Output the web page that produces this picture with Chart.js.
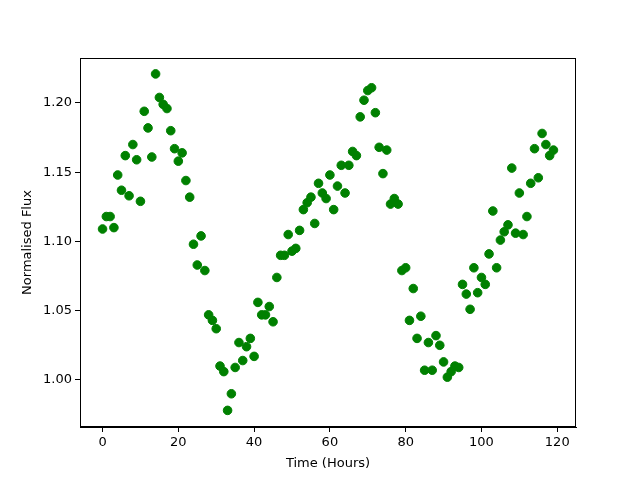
<!DOCTYPE html>
<html>
<head>
<meta charset="utf-8">
<script src="https://cdn.jsdelivr.net/npm/chart.js@4"></script>
<style>
  html, body { margin: 0; padding: 0; background: #fff; }
  canvas { display: block; }
</style>
</head>
<body>
<canvas id="chart" width="640" height="480"></canvas>
<script>
// Hours (x values)
const hours = [];
for (let h = 0; h < 120; h++) hours.push(h);

// Normalised flux, one per hour
const flux = [
    1.109, 1.118, 1.118, 1.110, 1.148, 1.137, 1.162, 1.133, 1.170, 1.159,
    1.129, 1.194, 1.182, 1.161, 1.221, 1.204, 1.199, 1.196, 1.180, 1.167,
    1.158, 1.164, 1.144, 1.132, 1.098, 1.083, 1.104, 1.079, 1.047, 1.043,
    1.037, 1.010, 1.006, 0.978, 0.990, 1.009, 1.027, 1.014, 1.024, 1.030,
    1.017, 1.056, 1.047, 1.047, 1.053, 1.042, 1.074, 1.090, 1.090, 1.105,
    1.093, 1.095, 1.108, 1.123, 1.128, 1.132, 1.113, 1.142, 1.135, 1.131,
    1.148, 1.123, 1.140, 1.155, 1.135, 1.155, 1.165, 1.162, 1.190, 1.202,
    1.209, 1.211, 1.193, 1.168, 1.149, 1.166, 1.127, 1.131, 1.127, 1.079,
    1.081, 1.043, 1.066, 1.030, 1.046, 1.007, 1.027, 1.007, 1.032, 1.025,
    1.013, 1.002, 1.006, 1.010, 1.009, 1.069, 1.062, 1.051, 1.081, 1.063,
    1.074, 1.069, 1.091, 1.122, 1.081, 1.101, 1.107, 1.112, 1.153, 1.106,
    1.135, 1.105, 1.118, 1.142, 1.167, 1.146, 1.178, 1.170, 1.162, 1.166
];

// Tick labels
const xTicks = [0, 20, 40, 60, 80, 100, 120];
const yTicks = [1.00, 1.05, 1.10, 1.15, 1.20];

const points = hours.map((h, i) => ({ x: h, y: flux[i] }));

// draws the top and right spines like matplotlib
const frame = {
    id: 'frame',
    afterDraw(chart) {
        const a = chart.chartArea;
        const ctx = chart.ctx;
        ctx.save();
        ctx.strokeStyle = '#000';
        ctx.lineWidth = 1;
        ctx.strokeRect(a.left + 0.5, a.top + 0.5, a.right - a.left - 1, a.bottom - a.top - 1);
        ctx.restore();
    }
};

const font = { family: 'DejaVu Sans', size: 13 };

new Chart(document.getElementById('chart').getContext('2d'), {
    type: 'scatter',
    data: {
        datasets: [{
            data: points,
            backgroundColor: '#008000',
            borderColor: '#008000',
            borderWidth: 1,
            pointRadius: 4.3
        }]
    },
    options: {
        responsive: false,
        animation: false,
        layout: { padding: { left: 0, top: 58, right: 64, bottom: 0 } },
        plugins: {
            legend: { display: false },
            tooltip: { enabled: false }
        },
        scales: {
            x: {
                type: 'linear',
                min: -5.95,
                max: 124.95,
                afterBuildTicks: scale => { scale.ticks = xTicks.map(v => ({ value: v })); },
                afterFit: scale => { scale.height = 53; },
                grid: { drawOnChartArea: false, tickLength: 5, tickColor: '#000' },
                border: { display: true, color: '#000', width: 1 },
                ticks: { color: '#000', font: font, padding: 3, maxRotation: 0 },
                title: {
                    display: true, text: 'Time (Hours)', color: '#000', font: font,
                    padding: { top: 0, bottom: 9 }
                }
            },
            y: {
                min: 0.966,
                max: 1.2325,
                afterBuildTicks: scale => { scale.ticks = yTicks.map(v => ({ value: v })); },
                afterFit: scale => { scale.width = 80; },
                grid: { drawOnChartArea: false, tickLength: 5, tickColor: '#000' },
                border: { display: true, color: '#000', width: 1 },
                ticks: {
                    color: '#000', font: font, padding: 3,
                    callback: v => v.toFixed(2)
                },
                title: {
                    display: true, text: 'Normalised Flux', color: '#000', font: font,
                    padding: { top: 20, bottom: 0 }
                }
            }
        }
    },
    plugins: [frame]
});
</script>
</body>
</html>
